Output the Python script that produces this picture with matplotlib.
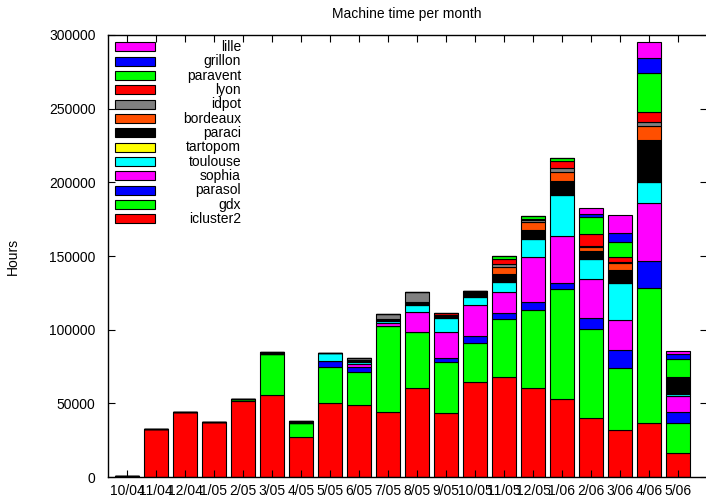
import numpy as np
import matplotlib
matplotlib.use("Agg")
import matplotlib.pyplot as plt
from matplotlib.patches import Rectangle

plt.rcParams['font.family'] = ['Liberation Sans', 'DejaVu Sans']
plt.rcParams['font.size'] = 10

months = ['10/04', '11/04', '12/04', '1/05', '2/05', '3/05', '4/05', '5/05', '6/05', '7/05',
          '8/05', '9/05', '10/05', '11/05', '12/05', '1/06', '2/06', '3/06', '4/06', '5/06']

icluster2 = [800, 32600, 43900, 37100, 51400, 55400, 26900, 50000, 48650, 43900,
             60200, 43200, 64500, 67700, 60200, 52700, 39800, 31900, 36400, 16500]
gdx       = [0, 0, 0, 0, 1300, 27900, 10000, 24500, 22850, 58300,
             38000, 35100, 26700, 39300, 53100, 74700, 60600, 42300, 91700, 19900]
parasol   = [0, 0, 0, 0, 0, 0, 0, 4500, 3400, 600,
             0, 2200, 4500, 4100, 5300, 4100, 7300, 12000, 18700, 7900]
sophia    = [0, 0, 0, 0, 0, 0, 0, 0, 1800, 2000,
             14000, 17900, 21000, 14300, 30500, 32300, 26500, 20400, 39000, 10700]
toulouse  = [0, 0, 0, 0, 0, 0, 0, 5000, 1150, 1200,
             4800, 9800, 5700, 7200, 12200, 27600, 13800, 24900, 14600, 1300]
tartopom  = [0, 0, 0, 0, 0, 300, 0, 0, 0, 0,
             0, 0, 0, 0, 0, 0, 0, 0, 0, 0]
paraci    = [0, 0, 0, 0, 0, 1000, 800, 0, 1350, 1400,
             1500, 1600, 4100, 5200, 6300, 9500, 5400, 9000, 28300, 9500]
bordeaux  = [0, 0, 0, 0, 0, 0, 0, 0, 0, 0,
             0, 0, 0, 4700, 5500, 5900, 3000, 4500, 9700, 900]
idpot     = [0, 0, 0, 0, 0, 0, 0, 0, 1600, 3000,
             6800, 0, 0, 1900, 1200, 2700, 700, 1100, 2300, 600]
lyon      = [0, 0, 0, 0, 0, 0, 0, 0, 0, 0,
             0, 1500, 0, 3800, 1000, 5000, 7700, 3000, 7200, 800]
paravent  = [0, 0, 0, 0, 0, 0, 0, 0, 0, 0,
             0, 0, 0, 1800, 1800, 1800, 11500, 10600, 26500, 11800]
grillon   = [0, 0, 0, 0, 0, 0, 0, 0, 0, 0,
             0, 0, 0, 0, 0, 0, 2300, 6100, 10200, 3400]
lille     = [0, 0, 0, 0, 0, 0, 0, 0, 0, 0,
             0, 0, 0, 0, 0, 0, 3900, 12000, 10800, 2400]

series_names = ['icluster2', 'gdx', 'parasol', 'sophia', 'toulouse', 'tartopom', 'paraci',
                'bordeaux', 'idpot', 'lyon', 'paravent', 'grillon', 'lille']
series_values = [icluster2, gdx, parasol, sophia, toulouse, tartopom, paraci,
                 bordeaux, idpot, lyon, paravent, grillon, lille]
series_colors = ['#ff0000', '#00ff00', '#0000ff', '#ff00ff', '#00ffff', '#ffff00', '#000000',
                 '#ff4f00', '#808080', '#ff0000', '#00ff00', '#0000ff', '#ff00ff']

W, H = 706, 498
fig = plt.figure(figsize=(W / 100, H / 100), dpi=100)
ax_left, ax_right, ax_top, ax_bottom = 108, 707, 35, 477
ax = fig.add_axes([ax_left / W, 1 - ax_bottom / H, (ax_right - ax_left) / W, (ax_bottom - ax_top) / H])

x = np.arange(len(months))
bottom = np.zeros(len(months))
for name, vals, col in zip(series_names, series_values, series_colors):
    v = np.array(vals, dtype=float)
    ax.bar(x, v, bottom=bottom, width=0.86, color=col, edgecolor='black', linewidth=0.8)
    bottom += v

ax.set_xlim(-0.655, 20.0)
ax.set_ylim(0, 300000)
ax.set_yticks(np.arange(0, 300001, 50000))
ax.set_yticklabels([str(v) for v in range(0, 300001, 50000)])
ax.set_xticks(x)
ax.set_xticklabels(months)
ax.tick_params(axis='both', direction='in', length=5, width=0.8, top=True, right=True,
               labelsize=10, colors='black')
ax.tick_params(axis='x', pad=5)
ax.tick_params(axis='y', pad=9)
for s in ax.spines.values():
    s.set_linewidth(1.0)

# legend (gnuplot-style: sample box on the left, right-justified text)
aw = ax_right - ax_left
ah = ax_bottom - ax_top
for i, (name, col) in enumerate(zip(series_names[::-1], series_colors[::-1])):
    yc = 47 + i * 14.33
    yb = (ax_bottom - (yc + 4.5)) / ah
    ax.add_patch(Rectangle(((115 - ax_left) / aw, yb), 40 / aw, 9 / ah,
                           transform=ax.transAxes, facecolor=col, edgecolor='black',
                           linewidth=0.8, clip_on=False))
    ax.text((241 - ax_left) / aw, (ax_bottom - yc) / ah, name, transform=ax.transAxes,
            ha='right', va='center', fontsize=10)

fig.text(407 / W, 1 - 14 / H, 'Machine time per month', ha='center', va='center', fontsize=10)
fig.text(13 / W, 1 - 256 / H, 'Hours', ha='center', va='center', rotation=90, fontsize=10)

fig.savefig('out.png', dpi=100)
